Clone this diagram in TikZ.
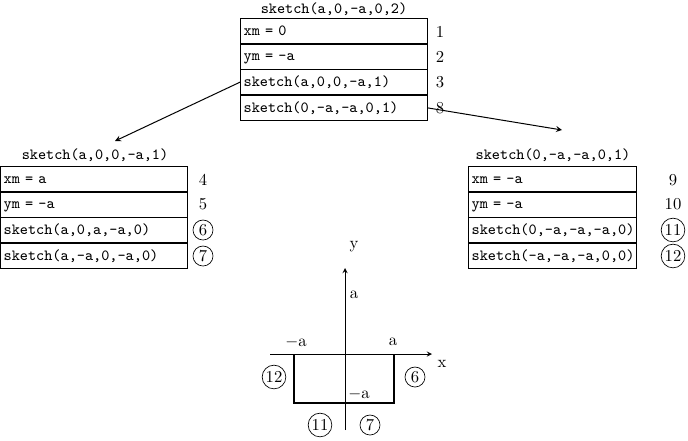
\documentclass[tikz,border=0pt]{standalone}
\usepackage{tikz}
\tikzset{
  cell/.style={draw,anchor=north west,minimum height=15pt,text height=7pt,text depth=2pt,inner sep=2pt,font=\fontsize{9.3}{11}\ttfamily,align=left},
  num/.style={inner sep=1pt},
  ring/.style={draw,circle,inner sep=0.8pt,minimum size=12pt},
}
\begin{document}
\begin{tikzpicture}[x=0.6pt,y=-0.6pt]
\useasboundingbox (0,0) rectangle (688,440);
% Top frame
\node[font=\fontsize{9.3}{11}\ttfamily] (ttop) at (334,9) {sketch(a,0,-a,0,2)};
\node[cell,text width=108pt] (t1) at (240,18) {xm = 0};
\node[cell,text width=108pt] (t2) at (t1.south west) {ym = -a};
\node[cell,text width=108pt] (t3) at (t2.south west) {sketch(a,0,0,-a,1)};
\node[cell,text width=108pt] (t4) at (t3.south west) {sketch(0,-a,-a,0,1)};
\node[num] (n1) at (440,32) {1};
\node[num] (n2) at (440,57) {2};
\node[num] (n3) at (440,82) {3};
\node[num] (n8) at (440,108) {8};
% Left frame
\node[font=\fontsize{9.3}{11}\ttfamily] (ltop) at (95,155) {sketch(a,0,0,-a,1)};
\node[cell,text width=108pt] (l1) at (0,166) {xm = a};
\node[cell,text width=108pt] (l2) at (l1.south west) {ym = -a};
\node[cell,text width=108pt] (l3) at (l2.south west) {sketch(a,0,a,-a,0)};
\node[cell,text width=108pt] (l4) at (l3.south west) {sketch(a,-a,0,-a,0)};
\node[num] (n4) at (203,180) {4};
\node[num] (n5) at (203,204) {5};
\node[ring] (n6) at (203,230) {6};
\node[ring] (n7) at (203,256) {7};
% Right frame
\node[font=\fontsize{9.3}{11}\ttfamily] (rtop) at (553,155) {sketch(0,-a,-a,0,1)};
\node[cell,text width=97pt] (r1) at (468,166) {xm = -a};
\node[cell,text width=97pt] (r2) at (r1.south west) {ym = -a};
\node[cell,text width=97pt] (r3) at (r2.south west) {sketch(0,-a,-a,-a,0)};
\node[cell,text width=97pt] (r4) at (r3.south west) {sketch(-a,-a,-a,0,0)};
\node[num] (n9) at (673,180) {9};
\node[num] (n10) at (673,204) {10};
\node[ring] (n11) at (673,230) {11};
\node[ring] (n12) at (673,256) {12};
% Calls
\draw[-stealth,semithick] (t3.west) -- (115,141);
\draw[-stealth,semithick] (t4.east) -- (562,130);
% Axes
\draw[-stealth] (270,354) -- (432,354);
\draw[-stealth] (345,430) -- (345,268);
\draw[line width=1.6pt] (294,354) -- (294,403) -- (394,403) -- (394,354);
\node (lx) at (442,364) {x};
\node (ly) at (354,247) {y};
\node (la) at (354,295) {a};
\node (lma) at (296,342) {$-$a};
\node (lpa) at (393,342) {a};
\node (lmb) at (359,394) {$-$a};
\node[ring] (c12) at (274,377) {12};
\node[ring] (c6) at (415,377) {6};
\node[ring] (c11) at (320,425) {11};
\node[ring] (c7) at (370,425) {7};
\end{tikzpicture}
\end{document}
